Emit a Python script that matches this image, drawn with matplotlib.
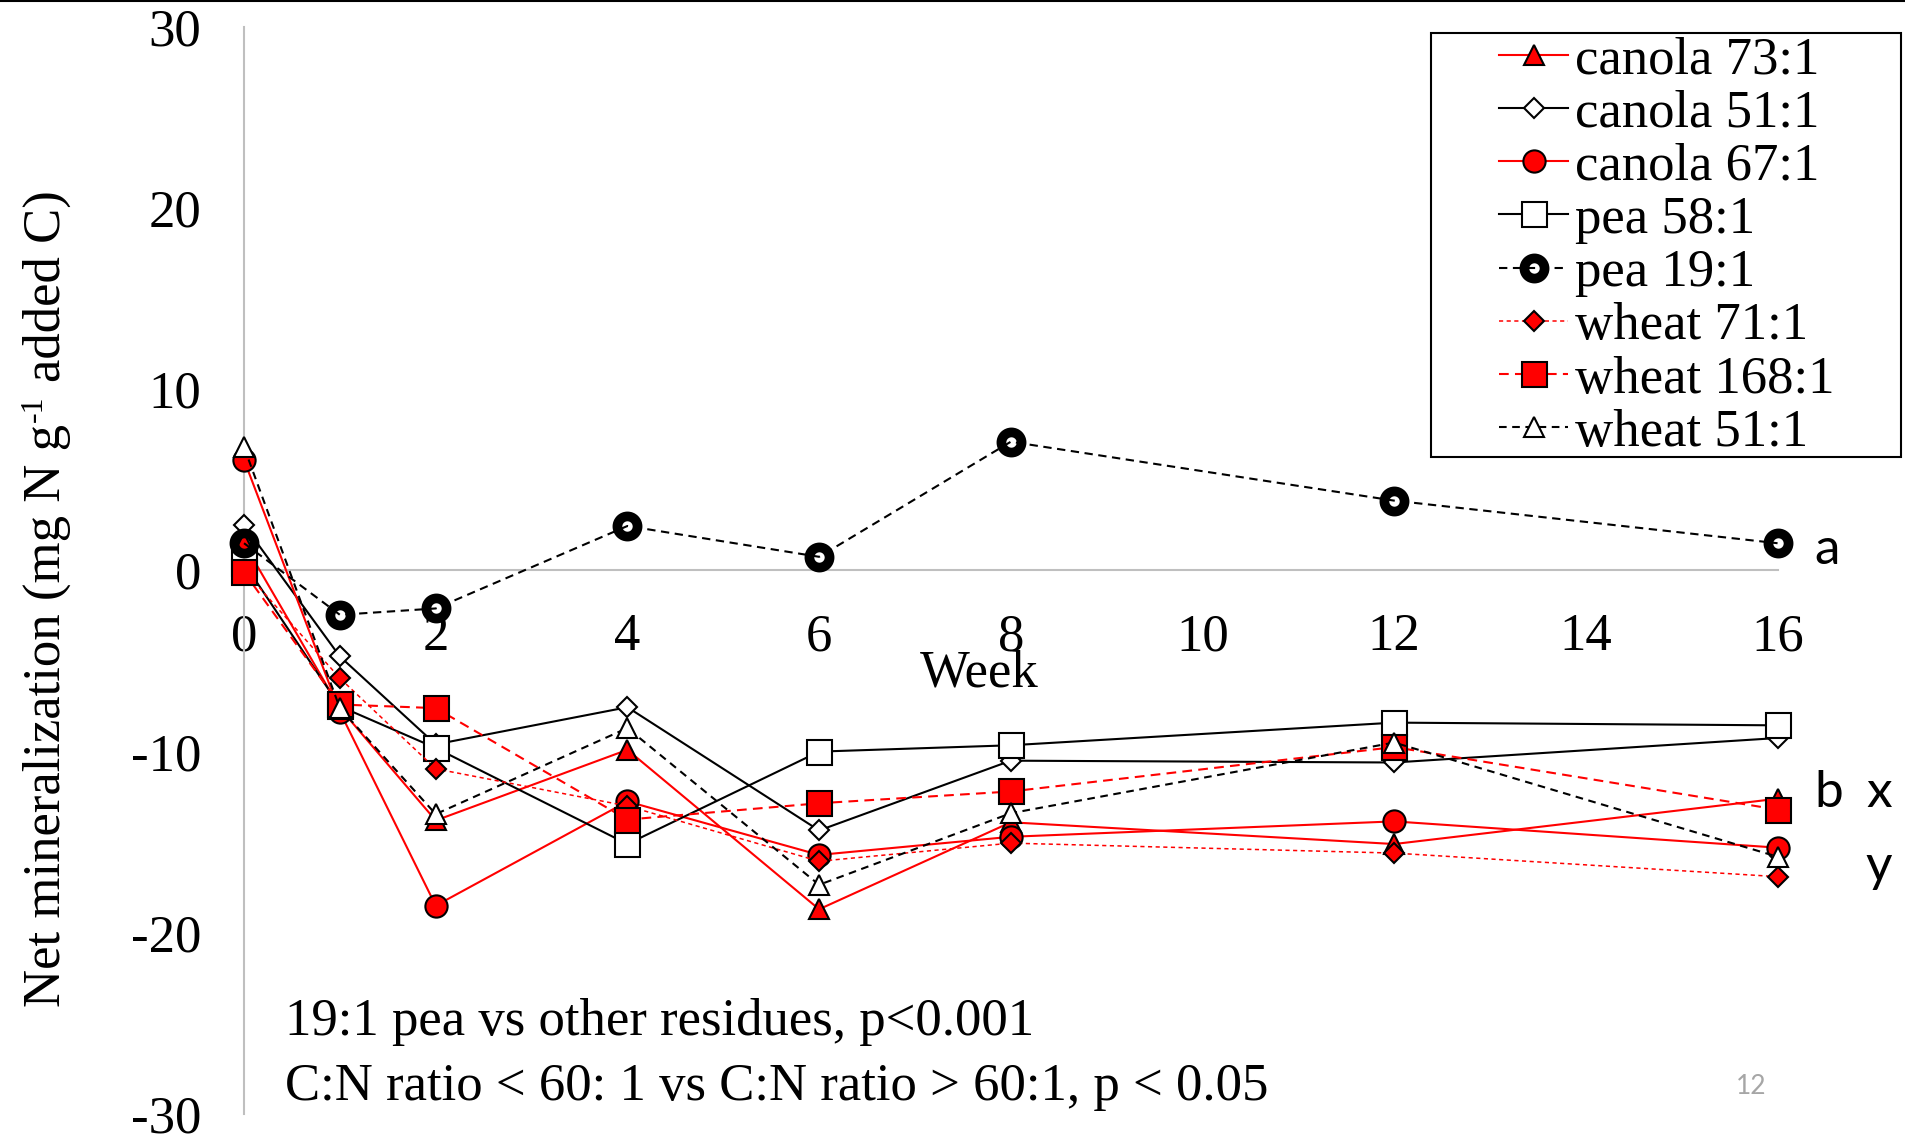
import matplotlib
matplotlib.use("Agg")
import matplotlib.pyplot as plt
from matplotlib.patches import Rectangle
from matplotlib.lines import Line2D

plt.rcParams['font.family'] = 'Liberation Serif'
plt.rcParams['axes.unicode_minus'] = False
plt.rcParams['lines.scale_dashes'] = False

# Net N mineralization by residue, weeks after incorporation
weeks = [0, 1, 2, 4, 6, 8, 12, 16]
canola_73 = [1.5, -7.6, -13.8, -9.9, -18.7, -13.9, -15.1, -12.6]
canola_51 = [2.5, -4.75, -9.6, -7.55, -14.35, -10.5, -10.6, -9.25]
canola_67 = [6.1, -7.8, -18.5, -12.75, -15.7, -14.7, -13.85, -15.3]
pea_58 = [0.4, -7.5, -9.8, -15.1, -10.0, -9.65, -8.4, -8.55]
pea_19 = [1.5, -2.45, -2.1, 2.45, 0.75, 7.1, 3.85, 1.5]
wheat_71 = [0.0, -5.95, -10.95, -13.0, -16.05, -15.05, -15.6, -16.9]
wheat_168 = [-0.1, -7.4, -7.6, -13.75, -12.85, -12.2, -9.75, -13.2]
wheat_51 = [6.8, -7.6, -13.45, -8.7, -17.35, -13.4, -9.5, -15.8]

labels = ['canola 73:1', 'canola 51:1', 'canola 67:1', 'pea 58:1',
          'pea 19:1', 'wheat 71:1', 'wheat 168:1', 'wheat 51:1']
xticks = [0, 2, 4, 6, 8, 10, 12, 14, 16]
yticks = [-30, -20, -10, 0, 10, 20, 30]

RED = '#FF0000'
styles = [
    dict(color=RED, ls='-', lw=1.5, marker='^', ms=15, mfc=RED),
    dict(color='black', ls='-', lw=1.5, marker='D', ms=10, mfc='white'),
    dict(color=RED, ls='-', lw=1.5, marker='o', ms=16, mfc=RED),
    dict(color='black', ls='-', lw=1.5, marker='s', ms=18, mfc='white'),
    dict(color='black', ls=(0, (6, 4)), lw=1.5, marker='o', ms=14.5, mfc='none', mew=7),
    dict(color=RED, ls=(0, (3, 2.5)), lw=1.1, marker='D', ms=10, mfc=RED),
    dict(color=RED, ls=(0, (7, 4.5)), lw=1.5, marker='s', ms=18, mfc=RED),
    dict(color='black', ls=(0, (5.5, 4)), lw=1.5, marker='^', ms=15, mfc='white'),
]
series = [canola_73, canola_51, canola_67, pea_58, pea_19, wheat_71, wheat_168, wheat_51]

W, H = 1905, 1134
fig = plt.figure(figsize=(W / 100, H / 100), dpi=100)
ax = fig.add_axes([0.1281, 0.0176, 0.805, 0.9588])

handles = []
for i, (vals, lab, st) in enumerate(zip(series, labels, styles)):
    st = dict(st)
    mew = st.pop('mew', 1.5)
    h, = ax.plot(weeks, vals, label=lab, mec='black', mew=mew,
                 clip_on=False, zorder=3 + i, **st)
    handles.append(h)

ax.set_xlim(0, 16)
ax.set_ylim(-30, 30)
ax.set_xticks(xticks)
ax.set_yticks(yticks)
ax.tick_params(length=0, labelsize=38)
ax.tick_params(axis='y', pad=31)
ax.tick_params(axis='x', pad=31)

for side in ['top', 'right']:
    ax.spines[side].set_visible(False)
ax.spines['bottom'].set_position(('data', 0))
for side in ['left', 'bottom']:
    ax.spines[side].set_color('#BFBFBF')
    ax.spines[side].set_linewidth(1.5)

ax.text(7.67, -5.7, 'Week', fontsize=38, ha='center', va='center')

# y label built from pieces so the superscript stays in the serif face
renderer = fig.canvas.get_renderer()
base_x, y_pos = 60, H - 1007
pieces = [('Net mineralization (mg N g', 38, 0, 2),
          ('-1', 23, -18, 13),
          ('added C)', 38, 0, 0)]
for s, size, dx, gap in pieces:
    t = fig.text((base_x + dx) / W, y_pos / H, s, fontsize=size, rotation=90,
                 rotation_mode='anchor', ha='left', va='baseline')
    y_pos += t.get_window_extent(renderer).height + gap

# significance notes
fig.text(285 / W, 1 - 1035 / H, '19:1 pea vs other residues, p<0.001',
         fontsize=38, ha='left', va='baseline')
fig.text(285 / W, 1 - 1100 / H,
         'C:N ratio < 60: 1 vs C:N ratio > 60:1, p < 0.05',
         fontsize=38, ha='left', va='baseline')

# group letters at the end of the lines
for x, y, s in [(16.52, 0.37, 'a'), (16.53, -13.05, 'b'),
                (17.06, -13.05, 'x'), (17.06, -17.13, 'y')]:
    ax.text(x, y, s, fontsize=37, family='Lato', ha='center', va='baseline',
            clip_on=False)

fig.text(1751 / W, 1 - 1087 / H, '12', fontsize=19, family='Lato',
         color='#A6A6A6', ha='center', va='center')

# legend, with its own frame
fig.legend(handles=handles, loc='upper left',
           bbox_to_anchor=(1499 / W, 1 - 36 / H),
           frameon=False, fontsize=38, borderpad=0, borderaxespad=0,
           handlelength=1.31, handletextpad=0.13, labelspacing=0.1)
fig.patches.append(Rectangle((1431 / W, 1 - 457 / H), 470 / W, 424 / H,
                             transform=fig.transFigure, fill=False,
                             edgecolor='black', lw=1.5))

# thin rule along the top edge
fig.lines.append(Line2D([0, 1], [0.999, 0.999], transform=fig.transFigure,
                        color='black', lw=1.5))

fig.savefig('out.png', dpi=100)
